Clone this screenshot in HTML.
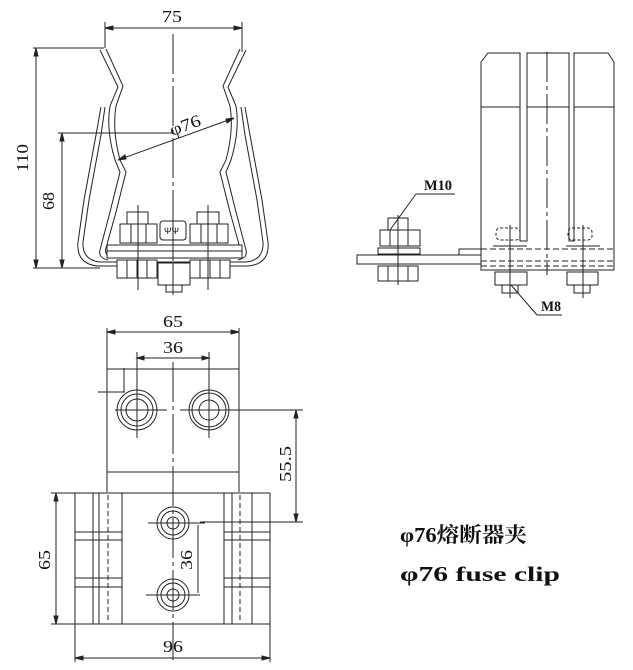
<!DOCTYPE html>
<html><head><meta charset="utf-8"><style>
html,body{margin:0;padding:0;background:#fff;width:633px;height:670px;overflow:hidden}
svg{display:block}
text{fill:#111}
.d{font-family:"Liberation Serif","Noto Serif CJK SC",serif}
</style></head><body>
<svg width="633" height="670" viewBox="0 0 633 670" xmlns="http://www.w3.org/2000/svg" fill="none" stroke="#222" stroke-width="1">
<!-- ===== TOP-LEFT VIEW ===== -->
<line x1="105" y1="28" x2="242" y2="28"/>
<line x1="105" y1="22" x2="105" y2="48"/>
<line x1="242" y1="22" x2="242" y2="52"/>
<path d="M105 28 l8 -2 v4z M242 28 l-8 -2 v4z" fill="#222"/>
<text class="d" x="162" y="22" font-size="17" stroke="none" textLength="20" lengthAdjust="spacingAndGlyphs">75</text>
<line x1="173" y1="34" x2="173" y2="295" stroke-dasharray="40 4 4 4"/>
<line x1="33" y1="48" x2="104" y2="48"/>
<line x1="33" y1="268" x2="100" y2="268"/>
<line x1="36" y1="48" x2="36" y2="268"/>
<path d="M36 48 l-2 8 h4z M36 268 l-2 -8 h4z" fill="#222"/>
<text class="d" transform="translate(28,172) rotate(-90)" font-size="17" stroke="none" textLength="28" lengthAdjust="spacingAndGlyphs">110</text>
<line x1="58" y1="133" x2="173" y2="133"/>
<line x1="62" y1="133" x2="62" y2="268"/>
<path d="M62 133 l-2 8 h4z M62 268 l-2 -8 h4z" fill="#222"/>
<text class="d" transform="translate(54,210) rotate(-90)" font-size="17" stroke="none" textLength="18" lengthAdjust="spacingAndGlyphs">68</text>
<line x1="118" y1="160" x2="234" y2="118"/>
<path d="M118 160 l7 -5 l1 4z M234 118 l-7 5 l-1 -4z" fill="#222"/>
<text class="d" transform="translate(172,136) rotate(-20)" font-size="17" stroke="none" textLength="32" lengthAdjust="spacingAndGlyphs">φ76</text>
<g id="clipL">
<path d="M100 50 L118 87 L110 106 Q106 130 115 160 L120 172 L110 212 L100 250 Q98 258 108 260"/>
<path d="M106 49 L123 86 L116 106 Q112 130 120 160 L126 172 L116 212 L106 248 Q104 254 110 256"/>
<path d="M101 107 L96 135 L84 200 L78 242 Q76 264 98 266 L172 266"/>
<path d="M105 107 L101 135 L89 200 L83 242 Q82 260 100 262 L172 262"/>
</g>
<use href="#clipL" transform="translate(346,0) scale(-1,1)"/>
<rect x="107" y="245" width="135" height="13" fill="#fff"/>
<line x1="107" y1="251" x2="242" y2="251"/>
<rect x="127" y="212" width="21" height="12" fill="#fff"/>
<rect x="120" y="224" width="37" height="19" fill="#fff"/>
<line x1="131" y1="224" x2="131" y2="243"/><line x1="146" y1="224" x2="146" y2="243"/>
<rect x="190" y="224" width="38" height="19" fill="#fff"/>
<rect x="197" y="212" width="22" height="12" fill="#fff"/>
<line x1="201" y1="224" x2="201" y2="243"/><line x1="217" y1="224" x2="217" y2="243"/>
<rect x="160" y="221" width="26" height="19" rx="3" fill="#fff"/>
<text x="164" y="234" font-size="9" stroke="none" style="font-family:'Liberation Sans',sans-serif">ΨΨ</text>
<rect x="117" y="260" width="40" height="18" fill="#fff"/>
<line x1="127" y1="260" x2="127" y2="278"/><line x1="137" y1="260" x2="137" y2="278"/><line x1="147" y1="260" x2="147" y2="278"/>
<rect x="190" y="260" width="40" height="18" fill="#fff"/>
<line x1="200" y1="260" x2="200" y2="278"/><line x1="210" y1="260" x2="210" y2="278"/><line x1="220" y1="260" x2="220" y2="278"/>
<rect x="158" y="263" width="32" height="22" fill="#fff"/>
<rect x="166" y="285" width="16" height="7" fill="#fff"/>
<line x1="138" y1="205" x2="138" y2="290"/><line x1="208" y1="205" x2="208" y2="290"/>
<line x1="173" y1="200" x2="173" y2="295"/>

<!-- ===== RIGHT VIEW ===== -->
<path d="M481 270 V62 L488 53 H520 V241 H527 V53 H569 V241 H574 V53 H608 L614 62 V270 Z"/>
<line x1="481" y1="107" x2="520" y2="107"/><line x1="527" y1="107" x2="569" y2="107"/><line x1="574" y1="107" x2="614" y2="107"/>
<line x1="547" y1="52" x2="547" y2="275" stroke-dasharray="30 4 4 4"/>
<line x1="481" y1="249" x2="614" y2="249" stroke-dasharray="6 3"/>
<line x1="481" y1="261" x2="614" y2="261" stroke-dasharray="6 3"/>
<line x1="481" y1="266" x2="614" y2="266" stroke-dasharray="6 3"/>
<rect x="357" y="255" width="124" height="9"/>
<rect x="459" y="249" width="22" height="6"/>
<rect x="388" y="218" width="20" height="12"/>
<rect x="380" y="230" width="40" height="16"/>
<line x1="390" y1="230" x2="390" y2="246"/><line x1="408" y1="230" x2="408" y2="246"/>
<rect x="378" y="248" width="42" height="6"/>
<rect x="378" y="266" width="40" height="15"/>
<line x1="388" y1="266" x2="388" y2="281"/><line x1="398" y1="266" x2="398" y2="281"/><line x1="408" y1="266" x2="408" y2="281"/>
<line x1="398" y1="215" x2="398" y2="285"/>
<text class="d" x="424" y="190" font-size="15" stroke="none" font-weight="bold" textLength="28" lengthAdjust="spacingAndGlyphs">M10</text>
<line x1="416" y1="194" x2="455" y2="194"/>
<line x1="416" y1="194" x2="390" y2="230"/>
<rect x="496" y="228" width="24" height="12" rx="4" stroke-dasharray="3 2"/>
<rect x="568" y="228" width="24" height="12" rx="4" stroke-dasharray="3 2"/>
<line x1="493" y1="246" x2="527" y2="246"/><line x1="566" y1="246" x2="600" y2="246"/>
<rect x="495" y="272" width="32" height="13"/>
<rect x="502" y="285" width="16" height="8"/>
<rect x="567" y="272" width="31" height="13"/>
<rect x="574" y="285" width="16" height="8"/>
<line x1="510" y1="225" x2="510" y2="298"/><line x1="583" y1="225" x2="583" y2="298"/>
<text class="d" x="541" y="311" font-size="15" stroke="none" font-weight="bold" textLength="20" lengthAdjust="spacingAndGlyphs">M8</text>
<line x1="537" y1="315" x2="562" y2="315"/>
<line x1="537" y1="315" x2="511" y2="285"/>

<!-- ===== BOTTOM VIEW ===== -->
<line x1="107" y1="328" x2="107" y2="492"/>
<line x1="239" y1="328" x2="239" y2="492"/>
<line x1="107" y1="332" x2="239" y2="332"/>
<path d="M107 332 l8 -2 v4z M239 332 l-8 -2 v4z" fill="#222"/>
<text class="d" x="163" y="327" font-size="17" stroke="none" textLength="20" lengthAdjust="spacingAndGlyphs">65</text>
<line x1="137" y1="352" x2="137" y2="438"/>
<line x1="209" y1="352" x2="209" y2="438"/>
<line x1="137" y1="358" x2="209" y2="358"/>
<path d="M137 358 l7 -2 v4z M209 358 l-7 -2 v4z" fill="#222"/>
<text class="d" x="163" y="353" font-size="17" stroke="none" textLength="20" lengthAdjust="spacingAndGlyphs">36</text>
<rect x="107" y="369" width="132" height="103"/>
<line x1="173" y1="362" x2="173" y2="660" stroke-dasharray="40 4 4 4"/>
<line x1="98" y1="392" x2="125" y2="392"/>
<line x1="124" y1="368" x2="124" y2="392"/>
<circle cx="137" cy="410" r="20"/><circle cx="137" cy="410" r="16"/><circle cx="137" cy="410" r="11"/>
<circle cx="209" cy="410" r="20"/><circle cx="209" cy="410" r="17"/><circle cx="209" cy="410" r="10"/>
<line x1="115" y1="410" x2="167" y2="410"/><line x1="180" y1="410" x2="303" y2="410"/>
<line x1="296" y1="410" x2="296" y2="522"/>
<line x1="200" y1="522" x2="303" y2="522"/>
<path d="M296 410 l-2 8 h4z M296 522 l-2 -8 h4z" fill="#222"/>
<text class="d" transform="translate(291,482) rotate(-90)" font-size="17" stroke="none" textLength="36" lengthAdjust="spacingAndGlyphs">55.5</text>
<line x1="51" y1="493" x2="270" y2="493"/>
<line x1="51" y1="624" x2="270" y2="624"/>
<line x1="75" y1="493" x2="75" y2="662"/>
<line x1="270" y1="493" x2="270" y2="662"/>
<line x1="93" y1="493" x2="93" y2="624"/><line x1="99" y1="493" x2="99" y2="624"/>
<line x1="108" y1="495" x2="108" y2="622" stroke-dasharray="5 3"/>
<line x1="122" y1="493" x2="122" y2="624"/>
<line x1="224" y1="493" x2="224" y2="624"/><line x1="232" y1="493" x2="232" y2="624"/>
<line x1="240" y1="495" x2="240" y2="622" stroke-dasharray="5 3"/>
<line x1="252" y1="493" x2="252" y2="624"/>
<path d="M75 532 H122 M75 540 H122 M75 578 H122 M75 587 H122 M224 532 H270 M224 540 H270 M224 578 H270 M224 587 H270"/>
<line x1="56" y1="493" x2="56" y2="624"/>
<path d="M56 493 l-2 8 h4z M56 624 l-2 -8 h4z" fill="#222"/>
<text class="d" transform="translate(50,570) rotate(-90)" font-size="17" stroke="none" textLength="20" lengthAdjust="spacingAndGlyphs">65</text>
<circle cx="173" cy="523" r="16"/><circle cx="173" cy="523" r="12"/><circle cx="173" cy="523" r="6"/>
<circle cx="173" cy="595" r="16"/><circle cx="173" cy="595" r="12"/><circle cx="173" cy="595" r="6"/>
<line x1="148" y1="523" x2="205" y2="523"/><line x1="146" y1="595" x2="200" y2="595"/>
<line x1="198" y1="525" x2="198" y2="593"/>
<text class="d" transform="translate(192,570) rotate(-90)" font-size="17" stroke="none" textLength="20" lengthAdjust="spacingAndGlyphs">36</text>
<line x1="75" y1="658" x2="270" y2="658"/>
<path d="M75 658 l8 -2 v4z M270 658 l-8 -2 v4z" fill="#222"/>
<text class="d" x="163" y="652" font-size="17" stroke="none" textLength="20" lengthAdjust="spacingAndGlyphs">96</text>

<text x="400" y="542" font-size="21" stroke="none" style="font-family:'Liberation Serif','Noto Serif CJK SC',serif;font-weight:bold" textLength="127" lengthAdjust="spacingAndGlyphs">φ76熔断器夹</text>
<text x="400" y="581" font-size="21" stroke="none" style="font-family:'Liberation Serif',serif;font-weight:bold" textLength="160" lengthAdjust="spacingAndGlyphs">φ76 fuse clip</text>
</svg>
</body></html>
